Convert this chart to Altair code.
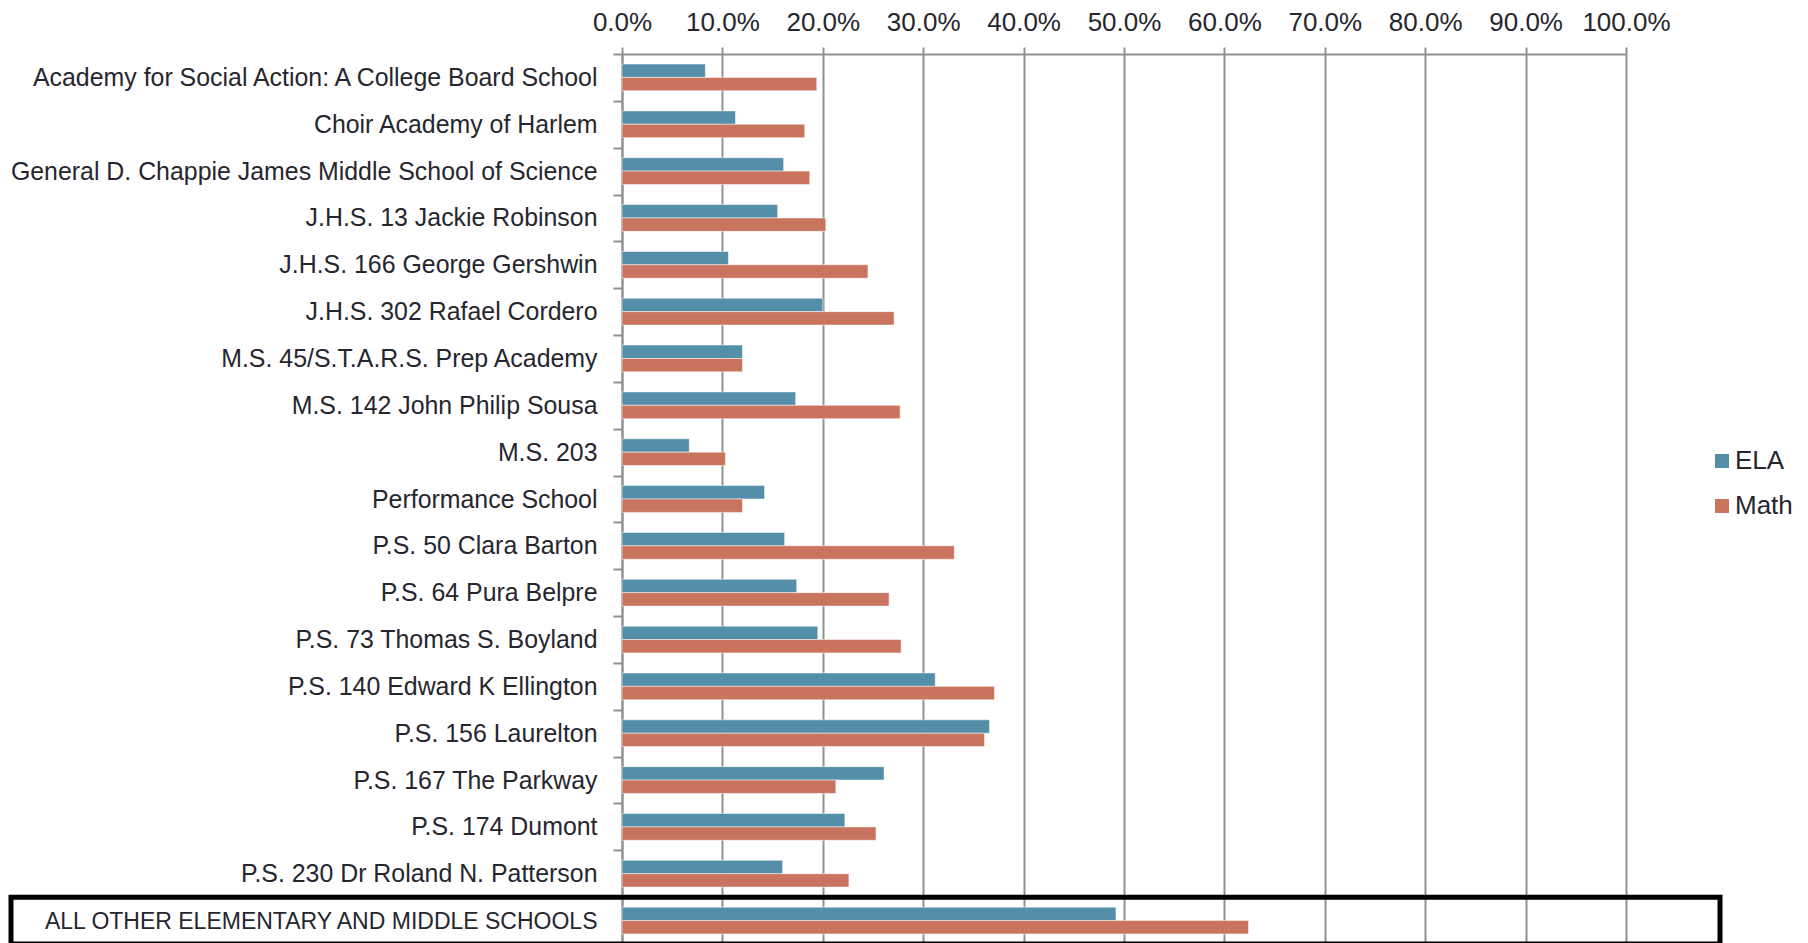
import altair as alt
import pandas as pd

schools = [
    "Academy for Social Action: A College Board School",
    "Choir Academy of Harlem",
    "General D. Chappie James Middle School of Science",
    "J.H.S. 13 Jackie Robinson",
    "J.H.S. 166 George Gershwin",
    "J.H.S. 302 Rafael Cordero",
    "M.S. 45/S.T.A.R.S. Prep Academy ",
    "M.S. 142 John Philip Sousa",
    "M.S. 203",
    "Performance School",
    "P.S. 50 Clara Barton",
    "P.S. 64 Pura Belpre",
    "P.S. 73 Thomas S. Boyland",
    "P.S. 140 Edward K Ellington",
    "P.S. 156 Laurelton",
    "P.S. 167 The Parkway",
    "P.S. 174 Dumont",
    "P.S. 230 Dr Roland N. Patterson",
    "ALL OTHER ELEMENTARY AND MIDDLE SCHOOLS",
]
ela = [8.3, 11.3, 16.1, 15.5, 10.6, 20.0, 12.0, 17.3, 6.7, 14.2,
       16.2, 17.4, 19.5, 31.2, 36.6, 26.1, 22.2, 16.0, 49.2]
math = [19.4, 18.2, 18.7, 20.3, 24.5, 27.1, 12.0, 27.7, 10.3, 12.0,
        33.1, 26.6, 27.8, 37.1, 36.1, 21.3, 25.3, 22.6, 62.4]
subjects = ["ELA", "Math"]
colors = ["#548EA9", "#C8745F"]
highlight = ["ALL OTHER ELEMENTARY AND MIDDLE SCHOOLS"]

rows = []
for s, e, m in zip(schools, ela, math):
    rows.append({"school": s, "subject": "ELA", "value": e / 100})
    rows.append({"school": s, "subject": "Math", "value": m / 100})
df = pd.DataFrame(rows)
hl = pd.DataFrame({"school": highlight})

FONT = "Liberation Sans, Arial, sans-serif"
TXT = "#26262e"
GRAY = "#919191"

y_enc = alt.Y(
    "school:N",
    sort=schools,
    scale=alt.Scale(paddingInner=0, paddingOuter=0),
    axis=alt.Axis(
        title=None,
        tickBand="extent",
        tickSize=9,
        tickWidth=2,
        tickColor=GRAY,
        domainColor=GRAY,
        domainWidth=2,
        labelPadding=16,
        labelOffset=1,
        labelFont=FONT,
        labelColor=TXT,
        labelFontSize={
            "condition": {
                "test": "datum.value == 'ALL OTHER ELEMENTARY AND MIDDLE SCHOOLS'",
                "value": 23.0,
            },
            "value": 24.9,
        },
        labelLimit=800,
        grid=False,
    ),
)

bars = alt.Chart(df).mark_bar(stroke="white", strokeWidth=1, strokeOpacity=0.5).encode(
    y=y_enc,
    x=alt.X(
        "value:Q",
        scale=alt.Scale(domain=[0, 1], nice=False),
        axis=alt.Axis(
            orient="top",
            title=None,
            values=[i / 10 for i in range(11)],
            format=".1%",
            tickSize=7,
            tickWidth=2,
            tickColor=GRAY,
            domainColor=GRAY,
            domainWidth=2,
            grid=True,
            gridColor=GRAY,
            gridWidth=2,
            labelPadding=12,
            labelFont=FONT,
            labelFontSize=26,
            labelColor=TXT,
            labelOverlap=False,
            labelFlush=False,
            labelBound=False,
        ),
    ),
    yOffset=alt.YOffset(
        "subject:N", sort=subjects, scale=alt.Scale(paddingInner=0, paddingOuter=0.75)
    ),
    color=alt.Color(
        "subject:N",
        scale=alt.Scale(domain=subjects, range=colors),
        legend=alt.Legend(
            title=None,
            orient="none",
            legendX=1087,
            legendY=394,
            symbolType="square",
            symbolSize=196,
            symbolStrokeWidth=0,
            labelFont=FONT,
            labelFontSize=26,
            labelColor=TXT,
            labelOffset=0,
            rowPadding=19,
            padding=0,
        ),
    ),
)

box = alt.Chart(hl).mark_rect(fillOpacity=0, stroke="black", strokeWidth=5).encode(
    y=alt.Y("school:N", sort=schools),
    x=alt.value(-611),
    x2=alt.value(1098),
)

chart = (
    alt.layer(bars, box)
    .properties(
        width=1004,
        height=890,
        autosize=alt.AutoSizeParams(type="none"),
        padding={"left": 614, "top": 46, "right": 174, "bottom": 2},
        background="white",
    )
    .configure_view(stroke=None)
)

chart.save("out.html", embed_options={"renderer": "svg", "actions": False})
